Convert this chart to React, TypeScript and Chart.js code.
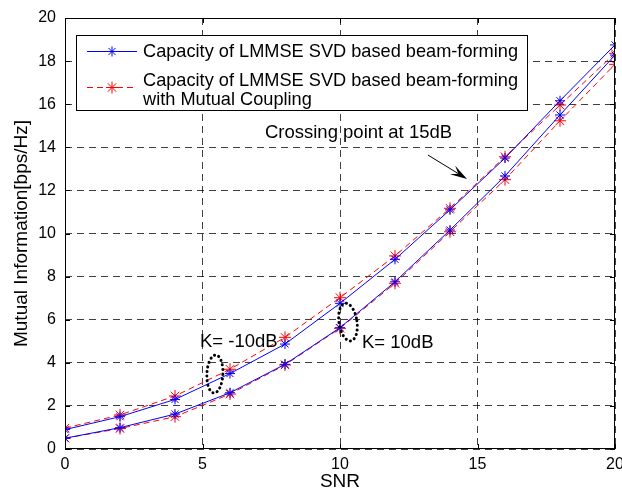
import React, { useEffect, useRef } from "react";
import { Chart, registerables } from "chart.js";

Chart.register(...registerables);

const snr = [0, 2, 4, 6, 8, 10, 12, 14, 16, 18, 20];
const upperBlue = [0.9, 1.5, 2.3, 3.5, 4.87, 6.76, 8.8, 11.1, 13.5, 16.16, 18.75];
const upperRed = [0.97, 1.58, 2.46, 3.7, 5.18, 7.02, 8.96, 11.17, 13.56, 15.96, 18.36];
const lowerBlue = [0.5, 0.99, 1.62, 2.61, 3.93, 5.63, 7.76, 10.16, 12.67, 15.5, 18.28];
const lowerRed = [0.5, 0.95, 1.5, 2.55, 3.9, 5.6, 7.69, 10.08, 12.5, 15.23, 17.85];

const legendLabels = [
  ["Capacity of LMMSE SVD based beam-forming"],
  ["Capacity of LMMSE SVD based beam-forming", "with Mutual Coupling"],
];
const crossingText = "Crossing point at 15dB";
const kLowText = "K= -10dB";
const kHighText = "K= 10dB";

const FONT = "'Liberation Sans', Arial, Helvetica, sans-serif";

const pts = (ys: number[]) => snr.map((x, i) => ({ x, y: ys[i] }));

const overlay = {
  id: "overlay",
  afterDraw(chart: any) {
    const { ctx, chartArea: a, scales } = chart;
    const xs = scales.x;
    const ys = scales.y;
    const px = (v: number) => xs.getPixelForValue(v);
    const py = (v: number) => ys.getPixelForValue(v);
    ctx.save();
    // box
    ctx.strokeStyle = "#000";
    ctx.lineWidth = 1;
    ctx.setLineDash([]);
    ctx.strokeRect(a.left + 0.5, a.top + 0.5, a.right - a.left - 1, a.bottom - a.top - 1);
    // inward ticks
    ctx.beginPath();
    const tl = 5;
    [0, 5, 10, 15, 20].forEach((v) => {
      const x = Math.round(px(v)) + 0.5;
      ctx.moveTo(x, a.bottom);
      ctx.lineTo(x, a.bottom - tl);
      ctx.moveTo(x, a.top);
      ctx.lineTo(x, a.top + tl);
    });
    for (let v = 0; v <= 20; v += 2) {
      const y = Math.round(py(v)) + 0.5;
      ctx.moveTo(a.left, y);
      ctx.lineTo(a.left + tl, y);
      ctx.moveTo(a.right, y);
      ctx.lineTo(a.right - tl, y);
    }
    ctx.stroke();

    // legend
    const lx = 76, ly = 35, lw = 451, lh = 75;
    ctx.fillStyle = "#fff";
    ctx.fillRect(lx, ly, lw, lh);
    ctx.strokeStyle = "#000";
    ctx.strokeRect(lx + 0.5, ly + 0.5, lw, lh);
    ctx.font = `18.2px ${FONT}`;
    ctx.fillStyle = "#000";
    ctx.textBaseline = "middle";
    ctx.textAlign = "left";
    ctx.fillText(legendLabels[0][0], 143, 52);
    ctx.fillText(legendLabels[1][0], 143, 81);
    ctx.fillText(legendLabels[1][1], 143, 100);
    const drawStar = (cx: number, cy: number, r: number, color: string) => {
      ctx.strokeStyle = color;
      ctx.setLineDash([]);
      ctx.beginPath();
      for (let k = 0; k < 4; k++) {
        const ang = (k * Math.PI) / 4;
        ctx.moveTo(cx + r * Math.cos(ang), cy + r * Math.sin(ang));
        ctx.lineTo(cx - r * Math.cos(ang), cy - r * Math.sin(ang));
      }
      ctx.stroke();
    };
    ctx.lineWidth = 1;
    ctx.strokeStyle = "#0000ff";
    ctx.beginPath();
    ctx.moveTo(87, 51.5);
    ctx.lineTo(137, 51.5);
    ctx.stroke();
    drawStar(112, 51.5, 5, "#0000ff");
    ctx.strokeStyle = "#ff0000";
    ctx.setLineDash([6, 4]);
    ctx.beginPath();
    ctx.moveTo(87, 87.5);
    ctx.lineTo(137, 87.5);
    ctx.stroke();
    drawStar(112, 87.5, 6, "#ff0000");

    // annotations
    ctx.setLineDash([]);
    ctx.fillStyle = "#000";
    ctx.font = `18.5px ${FONT}`;
    ctx.textBaseline = "middle";
    ctx.fillText(crossingText, px(7.27), py(14.66));
    ctx.fillText(kLowText, px(4.91), py(4.97));
    ctx.fillText(kHighText, px(10.8), py(4.92));

    // arrow
    const x1 = px(13.2), y1 = py(13.64), x2 = px(14.62), y2 = py(12.53);
    const ang = Math.atan2(y2 - y1, x2 - x1);
    const hl = 17, hw = 5;
    ctx.strokeStyle = "#000";
    ctx.lineWidth = 1;
    ctx.beginPath();
    ctx.moveTo(x1, y1);
    ctx.lineTo(x2 - hl * 0.6 * Math.cos(ang), y2 - hl * 0.6 * Math.sin(ang));
    ctx.stroke();
    ctx.beginPath();
    ctx.moveTo(x2, y2);
    ctx.lineTo(x2 - hl * Math.cos(ang) + hw * Math.sin(ang), y2 - hl * Math.sin(ang) - hw * Math.cos(ang));
    ctx.lineTo(x2 - hl * 0.6 * Math.cos(ang), y2 - hl * 0.6 * Math.sin(ang));
    ctx.lineTo(x2 - hl * Math.cos(ang) - hw * Math.sin(ang), y2 - hl * Math.sin(ang) + hw * Math.cos(ang));
    ctx.closePath();
    ctx.fill();

    // dotted ellipses
    ctx.lineWidth = 3;
    ctx.lineCap = "round";
    ctx.setLineDash([0.1, 4.5]);
    ctx.beginPath();
    ctx.ellipse(px(5.45), py(3.48), 8, 19, 0.05, 0, Math.PI * 2);
    ctx.stroke();
    ctx.beginPath();
    ctx.ellipse(px(10.29), py(5.89), 9, 19, -0.15, 0, Math.PI * 2);
    ctx.stroke();
    ctx.restore();
  },
};

export default function App() {
  const ref = useRef<HTMLCanvasElement>(null);
  useEffect(() => {
    if (!ref.current) return;
    const chart = new Chart(ref.current, {
      type: "line",
      data: {
        datasets: [
          {
            label: "upperBlue",
            data: pts(upperBlue),
            borderColor: "#0000ff",
            pointBorderColor: "#0000ff",
            pointStyle: "star",
            pointRadius: 5,
            pointBorderWidth: 1,
            borderWidth: 1,
            fill: false,
          },
          {
            label: "lowerBlue",
            data: pts(lowerBlue),
            borderColor: "#0000ff",
            pointBorderColor: "#0000ff",
            pointStyle: "star",
            pointRadius: 5,
            pointBorderWidth: 1,
            borderWidth: 1,
            fill: false,
          },
          {
            label: "upperRed",
            data: pts(upperRed),
            borderColor: "#ff0000",
            pointBorderColor: "#ff0000",
            pointStyle: "star",
            pointRadius: 6,
            pointBorderWidth: 1,
            borderWidth: 1,
            borderDash: [6, 4],
            fill: false,
          },
          {
            label: "lowerRed",
            data: pts(lowerRed),
            borderColor: "#ff0000",
            pointBorderColor: "#ff0000",
            pointStyle: "star",
            pointRadius: 6,
            pointBorderWidth: 1,
            borderWidth: 1,
            borderDash: [6, 4],
            fill: false,
          },
        ],
      },
      options: {
        animation: false,
        responsive: false,
        devicePixelRatio: 1,
        layout: { padding: { left: 0, right: 7, top: 18, bottom: 0 } },
        plugins: { legend: { display: false }, tooltip: { enabled: false } },
        scales: {
          x: {
            type: "linear",
            min: 0,
            max: 20,
            afterFit: (s: any) => {
              s.height = 49;
              s.paddingLeft = 0;
              s.paddingRight = 0;
            },
            ticks: {
              stepSize: 5,
              color: "#000",
              padding: 6,
              font: { family: FONT, size: 16 },
              maxRotation: 0,
            },
            grid: { color: "rgba(0,0,0,0.75)", lineWidth: 1, drawTicks: false },
            border: { display: false, dash: [7, 5] },
            title: {
              display: true,
              text: "SNR",
              color: "#000",
              font: { family: FONT, size: 19 },
              padding: { top: 0, bottom: 5 },
            },
          },
          y: {
            type: "linear",
            min: 0,
            max: 20,
            afterFit: (s: any) => {
              s.width = 65;
              s.paddingTop = 0;
              s.paddingBottom = 0;
            },
            ticks: {
              stepSize: 2,
              color: "#000",
              padding: 9,
              font: { family: FONT, size: 16 },
            },
            grid: { color: "rgba(0,0,0,0.75)", lineWidth: 1, drawTicks: false },
            border: { display: false, dash: [7, 5] },
            title: {
              display: true,
              text: "Mutual Information[bps/Hz]",
              color: "#000",
              font: { family: FONT, size: 19 },
              padding: { top: 10, bottom: 0 },
            },
          },
        },
      },
      plugins: [overlay],
    });
    return () => chart.destroy();
  }, []);
  return (
    <div style={{ position: "absolute", left: 0, top: 0, width: 622, height: 498, background: "#fff" }}>
      <canvas ref={ref} width={622} height={498} />
    </div>
  );
}
